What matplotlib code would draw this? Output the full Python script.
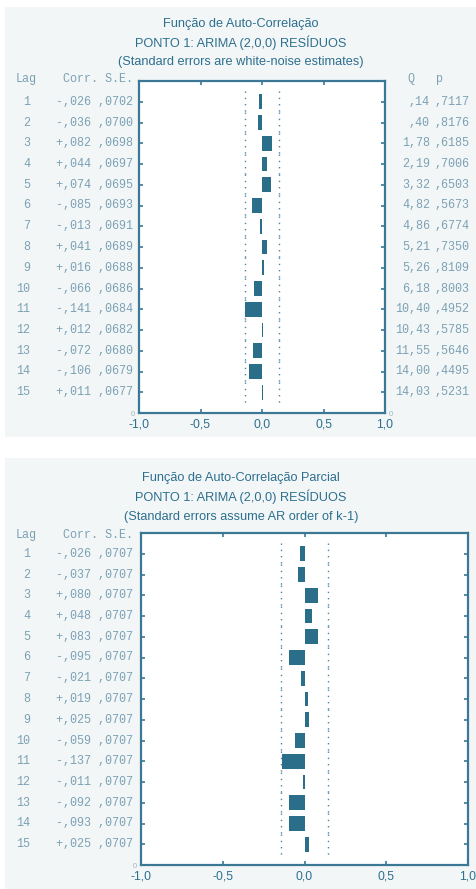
import matplotlib
matplotlib.use("Agg")
import matplotlib.pyplot as plt
import matplotlib.transforms as mtransforms
from matplotlib.patches import Rectangle

# ---- dados ----
lags = list(range(1, 16))

acf_corr = [-.026, -.036, .082, .044, .074, -.085, -.013, .041, .016, -.066, -.141, .012, -.072, -.106, .011]
acf_se = [.0702, .0700, .0698, .0697, .0695, .0693, .0691, .0689, .0688, .0686, .0684, .0682, .0680, .0679, .0677]
acf_q = [.14, .40, 1.78, 2.19, 3.32, 4.82, 4.86, 5.21, 5.26, 6.18, 10.40, 10.43, 11.55, 14.00, 14.03]
acf_p = [.7117, .8176, .6185, .7006, .6503, .5673, .6774, .7350, .8109, .8003, .4952, .5785, .5646, .4495, .5231]

pacf_corr = [-.026, -.037, .080, .048, .083, -.095, -.021, .019, .025, -.059, -.137, -.011, -.092, -.093, .025]
pacf_se = [.0707] * 15

xticks = [-1.0, -0.5, 0.0, 0.5, 1.0]
xtick_labels = ["-1,0", "-0,5", "0,0", "0,5", "1,0"]

titles_acf = ["Função de Auto-Correlação",
              "PONTO 1: ARIMA (2,0,0) RESÍDUOS",
              "(Standard errors are white-noise estimates)"]
titles_pacf = ["Função de Auto-Correlação Parcial",
               "PONTO 1: ARIMA (2,0,0) RESÍDUOS",
               "(Standard errors assume AR order of k-1)"]

# ---- estilo ----
W, H = 476, 889
BG = "#f3f6f7"
SPINE = "#3a7896"
BAR = "#2b6e8a"
TITLE = "#2c6f8e"
MONO = "#7ba1b4"
SANS = ["Liberation Sans", "DejaVu Sans"]
MONOF = ["Liberation Mono", "DejaVu Sans Mono"]


def fmt(v, signed=True, nd=3):
    s = ("%.*f" % (nd, abs(v)))
    s = s.lstrip("0").replace(".", ",")
    if signed:
        s = ("-" if v < 0 else "+") + s
    return s


def fmt_q(v):
    s = "%.2f" % v
    if s.startswith("0"):
        s = s[1:]
    return s.replace(".", ",")


fig = plt.figure(figsize=(W / 100, H / 100), dpi=100)
fig.patch.set_facecolor("white")
fig.patches.append(Rectangle((5 / W, 1 - 437 / H), 1, 430 / H, transform=fig.transFigure,
                             facecolor=BG, edgecolor="none", zorder=-10))
fig.patches.append(Rectangle((5 / W, 0), 1, 1 - 458 / H, transform=fig.transFigure,
                             facecolor=BG, edgecolor="none", zorder=-10))


def painel(rect, corr, se, titles, title_y, q=None, p=None, right_zero=False, head_y=0.0):
    ax = fig.add_axes(rect)
    ax.set_facecolor("white")
    ax.barh(lags, corr, height=0.7, color=BAR, zorder=3)
    # limites de confiança (2 x S.E.)
    for i, lag in enumerate(lags):
        lim = 2 * se[i]
        for s in (-1, 1):
            ax.plot([s * lim, s * lim], [lag - 0.5, lag + 0.5], color="#4d84a0",
                    lw=1.0, ls=(0, (1, 3.5)), zorder=2)
    ax.set_xlim(-1, 1)
    ax.set_ylim(16, 0)
    ax.set_xticks(xticks)
    ax.set_xticklabels(xtick_labels, fontsize=8.8, color=TITLE, family=SANS)
    ax.set_yticks(lags + [16])
    ax.set_yticklabels([""] * 15 + ["0"], fontsize=5.5, color="#9db5c2", family=SANS)
    ax.tick_params(axis="x", direction="in", length=3, width=1.2, color=SPINE,
                   top=True, pad=4)
    ax.tick_params(axis="y", direction="in", length=3, width=1.2, color=SPINE,
                   right=True, labelright=right_zero, pad=3)
    for sp in ax.spines.values():
        sp.set_color(SPINE)
        sp.set_linewidth(1.6)

    tr = mtransforms.blended_transform_factory(fig.transFigure, ax.transData)
    mono = dict(family=MONOF, fontsize=8.5, color=MONO, transform=tr, va="center")
    ax.text(16 / W, head_y, "Lag", ha="left", **mono)
    ax.text(133 / W, head_y, "Corr. S.E.", ha="right", **mono)
    for i, lag in enumerate(lags):
        ax.text(30 / W, lag, str(lag), ha="right", **mono)
        ax.text(133 / W, lag, fmt(corr[i]) + " " + fmt(se[i], False, 4), ha="right", **mono)
    if q is not None:
        ax.text(407 / W, head_y, "Q", ha="left", **mono)
        ax.text(435 / W, head_y, "p", ha="left", **mono)
        for i, lag in enumerate(lags):
            ax.text(430 / W, lag, fmt_q(q[i]), ha="right", **mono)
            ax.text(435 / W, lag, fmt(p[i], False, 4), ha="left", **mono)

    for k, t in enumerate(titles):
        fig.text(241 / W, 1 - title_y[k] / H, t, ha="center", va="center",
                 fontsize=9.2, color=TITLE, family=SANS)
    return ax


painel([139 / W, 1 - 413 / H, 246 / W, 332 / H], acf_corr, acf_se, titles_acf,
       [24, 43, 62], q=acf_q, p=acf_p, right_zero=True, head_y=-0.1)
painel([141 / W, 1 - 865 / H, 327 / W, 332 / H], pacf_corr, pacf_se, titles_pacf,
       [478, 497, 517], head_y=0.1)

fig.savefig("out.png", dpi=100, facecolor=fig.get_facecolor())
